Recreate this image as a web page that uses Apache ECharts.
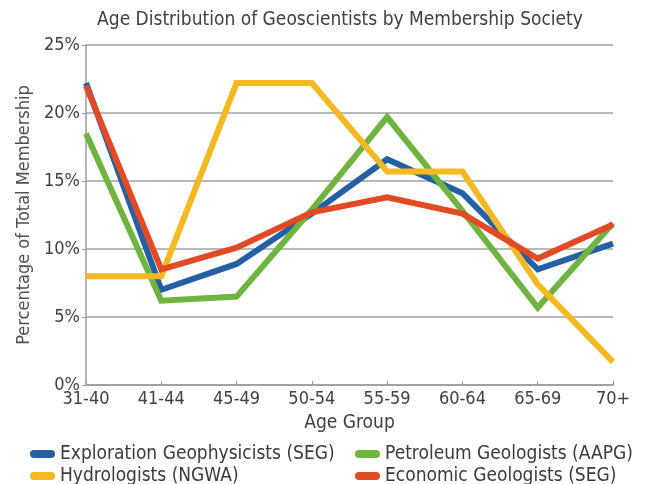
<!DOCTYPE html>
<html><head><meta charset="utf-8">
<script src="https://cdn.jsdelivr.net/npm/echarts@6/dist/echarts.min.js"></script>
<style>html,body{margin:0;padding:0;background:#fff}#c{width:651px;height:484px}</style>
</head><body><div id="c"></div>
<script>
const categories = ['31-40','41-44','45-49','50-54','55-59','60-64','65-69','70+'];
const explorationSEG = [22.2, 7.0, 8.9, 12.6, 16.6, 14.1, 8.5, 10.4];
const petroleumAAPG = [18.5, 6.2, 6.5, 12.9, 19.7, 12.8, 5.7, 11.9];
const hydroNGWA = [8.0, 8.0, 22.2, 22.2, 15.7, 15.7, 7.4, 1.7];
const economicSEG = [22.0, 8.5, 10.1, 12.7, 13.8, 12.6, 9.3, 11.8];
const seriesNames = ['Exploration Geophysicists (SEG)','Petroleum Geologists (AAPG)','Hydrologists (NGWA)','Economic Geologists (SEG)'];
const colors = ['#2660a4','#6fb43f','#f4b823','#e24a25'];

const FONT = "'Liberation Sans Narrow','DejaVu Sans Condensed','Liberation Sans',sans-serif";
const pill = 'path://M4,0 L21,0 A4,4 0 0 1 21,8 L4,8 A4,4 0 0 1 4,0 Z';
const chart = echarts.init(document.getElementById('c'));
const mk = (name, data, color, z) => ({
  name, type: 'line', data, symbol: 'none', z,
  lineStyle: { width: 6, color, join: 'miter' }, itemStyle: { color }
});
const legendCommon = {
  orient: 'vertical', itemWidth: 25, itemHeight: 8, itemGap: 2, icon: pill,
  height: 60, padding: 0,
  textStyle: { fontFamily: FONT, fontSize: 19, color: '#3a3a3a', lineHeight: 20 }
};
chart.setOption({
  animation: false,
  color: colors,
  title: {
    text: 'Age Distribution of Geoscientists by Membership Society',
    left: 335, top: 6, textAlign: 'center',
    textStyle: { fontFamily: FONT, fontSize: 19, fontWeight: 'normal', color: '#404040' }
  },
  legend: [
    Object.assign({ left: 30, top: 444, data: [seriesNames[0], seriesNames[2]] }, legendCommon),
    Object.assign({ left: 355, top: 444, data: [seriesNames[1], seriesNames[3]] }, legendCommon)
  ],
  grid: { left: 86, right: 38, top: 45, bottom: 99, containLabel: false },
  xAxis: {
    type: 'category', data: categories, boundaryGap: false,
    name: 'Age Group', nameLocation: 'middle', nameGap: 29,
    nameTextStyle: { fontFamily: FONT, fontSize: 19, color: '#404040' },
    axisLine: { lineStyle: { color: '#9a9a9a', width: 1.5 } },
    axisTick: { show: true, inside: true, length: 4, lineStyle: { color: '#9a9a9a' } },
    axisLabel: { fontFamily: FONT, fontSize: 18, color: '#404040', margin: 5 },
    splitLine: { show: false }
  },
  yAxis: {
    type: 'value', min: 0, max: 25, interval: 5,
    name: 'Percentage of Total Membership', nameLocation: 'middle', nameGap: 52,
    nameTextStyle: { fontFamily: FONT, fontSize: 18, color: '#505050', padding: [0, 0, 0, 0] },
    axisLine: { show: true, lineStyle: { color: '#9a9a9a', width: 1.5 } },
    axisTick: { show: true, length: 4, lineStyle: { color: '#9a9a9a' } },
    axisLabel: { fontFamily: FONT, fontSize: 18, color: '#404040', margin: 6, formatter: '{value}%' },
    splitLine: { lineStyle: { color: '#a0a0a0', width: 1.5 } }
  },
  series: [
    mk(seriesNames[0], explorationSEG, colors[0], 2),
    mk(seriesNames[1], petroleumAAPG, colors[1], 3),
    mk(seriesNames[2], hydroNGWA, colors[2], 4),
    mk(seriesNames[3], economicSEG, colors[3], 5)
  ]
});
</script></body></html>
